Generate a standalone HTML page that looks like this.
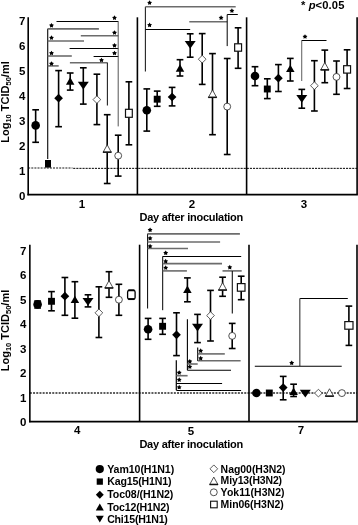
<!DOCTYPE html><html><head><meta charset="utf-8"><style>html,body{margin:0;padding:0;background:#fff;}svg{display:block;will-change:transform;}</style></head><body>
<svg width="358" height="525" viewBox="0 0 358 525" font-family='"Liberation Sans", sans-serif' font-weight="bold">
<rect width="358" height="525" fill="#fff"/>
<line x1="28.2" y1="168" x2="72.5" y2="168" stroke="#666" stroke-width="1.5" stroke-dasharray="2.0 1.1"/><line x1="73.2" y1="168.35" x2="357.1" y2="168.35" stroke="#000" stroke-width="1.0" stroke-dasharray="2.1 1.0"/><line x1="28.2" y1="17.3" x2="28.2" y2="195.35000000000002" stroke="#000" stroke-width="1.6"/><line x1="137.4" y1="17.3" x2="137.4" y2="194.55" stroke="#000" stroke-width="1.6"/><line x1="246.6" y1="17.3" x2="246.6" y2="194.55" stroke="#000" stroke-width="1.6"/><line x1="357.1" y1="17.3" x2="357.1" y2="194.55" stroke="#000" stroke-width="1.6"/><line x1="27.4" y1="194.55" x2="357.90000000000003" y2="194.55" stroke="#000" stroke-width="1.65"/><text x="25.3" y="25.40" font-size="11.5" text-anchor="end">7</text><text x="25.3" y="50.35" font-size="11.5" text-anchor="end">6</text><text x="25.3" y="75.30" font-size="11.5" text-anchor="end">5</text><text x="25.3" y="100.25" font-size="11.5" text-anchor="end">4</text><text x="25.3" y="125.20" font-size="11.5" text-anchor="end">3</text><text x="25.3" y="150.15" font-size="11.5" text-anchor="end">2</text><text x="25.3" y="175.10" font-size="11.5" text-anchor="end">1</text><text x="25.3" y="200.05" font-size="11.5" text-anchor="end">0</text>
<line x1="29.85" y1="393.0" x2="357.0" y2="393.0" stroke="#2a2a2a" stroke-width="1.3" stroke-dasharray="2.0 1.2"/><line x1="29.85" y1="244.7" x2="29.85" y2="422.35" stroke="#000" stroke-width="1.6"/><line x1="139.6" y1="244.7" x2="139.6" y2="421.55" stroke="#000" stroke-width="1.6"/><line x1="249.0" y1="244.7" x2="249.0" y2="421.55" stroke="#000" stroke-width="1.6"/><line x1="357.0" y1="244.7" x2="357.0" y2="421.55" stroke="#000" stroke-width="1.6"/><line x1="29.05" y1="421.55" x2="357.8" y2="421.55" stroke="#000" stroke-width="1.65"/><text x="26.4" y="254.50" font-size="11.5" text-anchor="end">7</text><text x="26.4" y="279.00" font-size="11.5" text-anchor="end">6</text><text x="26.4" y="303.50" font-size="11.5" text-anchor="end">5</text><text x="26.4" y="328.00" font-size="11.5" text-anchor="end">4</text><text x="26.4" y="352.50" font-size="11.5" text-anchor="end">3</text><text x="26.4" y="377.00" font-size="11.5" text-anchor="end">2</text><text x="26.4" y="401.50" font-size="11.5" text-anchor="end">1</text><text x="26.4" y="426.00" font-size="11.5" text-anchor="end">0</text>
<line x1="47.7" y1="28.8" x2="47.7" y2="159" stroke="#111" stroke-width="1.15"/>
<line x1="47.7" y1="28.9" x2="98.9" y2="28.9" stroke="#6c6c6c" stroke-width="1.6"/>
<line x1="47.7" y1="41" x2="84" y2="41" stroke="#6c6c6c" stroke-width="1.6"/>
<line x1="47.7" y1="56" x2="71.8" y2="56" stroke="#6c6c6c" stroke-width="1.6"/>
<line x1="47.7" y1="65.9" x2="58.7" y2="65.9" stroke="#6c6c6c" stroke-width="1.6"/>
<line x1="56.5" y1="21.5" x2="118.4" y2="21.5" stroke="#000" stroke-width="1.0"/>
<line x1="80.8" y1="35.7" x2="118.4" y2="35.7" stroke="#6c6c6c" stroke-width="1.6"/>
<line x1="69.6" y1="48.5" x2="118.4" y2="48.5" stroke="#000" stroke-width="1.0"/>
<line x1="93.6" y1="56.5" x2="118.4" y2="56.5" stroke="#000" stroke-width="1.0"/>
<line x1="118.2" y1="21.5" x2="118.2" y2="126.4" stroke="#555" stroke-width="1.0"/>
<line x1="69.9" y1="62.8" x2="107.6" y2="62.8" stroke="#6c6c6c" stroke-width="1.6"/>
<line x1="107.4" y1="62.8" x2="107.4" y2="105.5" stroke="#222" stroke-width="1.1"/>
<line x1="145.4" y1="6.7" x2="145.4" y2="71.5" stroke="#222" stroke-width="1.1"/>
<line x1="145.4" y1="6.8" x2="235.7" y2="6.8" stroke="#6c6c6c" stroke-width="1.6"/>
<line x1="145.4" y1="29.5" x2="190.2" y2="29.5" stroke="#000" stroke-width="1.0"/>
<line x1="189.3" y1="21.8" x2="227.2" y2="21.8" stroke="#6c6c6c" stroke-width="1.6"/>
<line x1="227.2" y1="14.6" x2="227.2" y2="46.1" stroke="#000" stroke-width="1.0"/>
<line x1="227.2" y1="14.5" x2="237.8" y2="14.5" stroke="#000" stroke-width="1.0"/>
<line x1="301.7" y1="40.4" x2="301.7" y2="81" stroke="#6c6c6c" stroke-width="1.1"/>
<line x1="301.7" y1="40.5" x2="326.5" y2="40.5" stroke="#000" stroke-width="1.0"/>
<line x1="147.6" y1="233.7" x2="147.6" y2="308.5" stroke="#000" stroke-width="1.0"/>
<line x1="147.6" y1="233.9" x2="239.9" y2="233.9" stroke="#6c6c6c" stroke-width="1.6"/>
<line x1="147.6" y1="242" x2="220.1" y2="242" stroke="#6c6c6c" stroke-width="1.6"/>
<line x1="147.6" y1="248.5" x2="188" y2="248.5" stroke="#6c6c6c" stroke-width="1.6"/>
<line x1="162.7" y1="256.4" x2="162.7" y2="310.2" stroke="#000" stroke-width="1.0"/>
<line x1="162.7" y1="256.5" x2="241.2" y2="256.5" stroke="#000" stroke-width="1.0"/>
<line x1="162.7" y1="263.6" x2="222" y2="263.6" stroke="#6c6c6c" stroke-width="1.6"/>
<line x1="162.7" y1="270.9" x2="186.9" y2="270.9" stroke="#6c6c6c" stroke-width="1.6"/>
<line x1="222.5" y1="270.9" x2="241.7" y2="270.9" stroke="#6c6c6c" stroke-width="1.6"/>
<line x1="232.3" y1="270.9" x2="232.3" y2="313.6" stroke="#111" stroke-width="1.1"/>
<line x1="187.4" y1="319.2" x2="187.4" y2="370.2" stroke="#000" stroke-width="1.1"/>
<line x1="187.4" y1="364" x2="197.7" y2="364" stroke="#6c6c6c" stroke-width="1.6"/>
<line x1="187.4" y1="370.2" x2="231" y2="370.2" stroke="#000" stroke-width="1.1"/>
<line x1="197.7" y1="347.5" x2="197.7" y2="361" stroke="#000" stroke-width="1.1"/>
<line x1="197.7" y1="353.9" x2="224.8" y2="353.9" stroke="#6c6c6c" stroke-width="1.6"/>
<line x1="197.7" y1="360.8" x2="240.6" y2="360.8" stroke="#6c6c6c" stroke-width="1.6"/>
<line x1="176.3" y1="360.3" x2="176.3" y2="390.3" stroke="#000" stroke-width="1.2"/>
<line x1="176.4" y1="375.7" x2="187.6" y2="375.7" stroke="#6c6c6c" stroke-width="1.6"/>
<line x1="176.4" y1="383.5" x2="222.1" y2="383.5" stroke="#000" stroke-width="1.0"/>
<line x1="176.4" y1="390.5" x2="241.1" y2="390.5" stroke="#000" stroke-width="1.0"/>
<line x1="299.8" y1="298.5" x2="347.8" y2="298.5" stroke="#000" stroke-width="1.1"/>
<line x1="299.8" y1="298.5" x2="299.8" y2="366" stroke="#555" stroke-width="1.3"/>
<line x1="254.8" y1="366.2" x2="341.7" y2="366.2" stroke="#000" stroke-width="1.1"/>
<polygon points="51.50,22.95 52.32,24.37 53.93,24.71 52.83,25.93 53.00,27.56 51.50,26.90 50.00,27.56 50.17,25.93 49.07,24.71 50.68,24.37" fill="#000"/>
<polygon points="51.50,35.25 52.32,36.67 53.93,37.01 52.83,38.23 53.00,39.86 51.50,39.20 50.00,39.86 50.17,38.23 49.07,37.01 50.68,36.67" fill="#000"/>
<polygon points="51.50,50.65 52.32,52.07 53.93,52.41 52.83,53.63 53.00,55.26 51.50,54.60 50.00,55.26 50.17,53.63 49.07,52.41 50.68,52.07" fill="#000"/>
<polygon points="51.50,61.15 52.32,62.57 53.93,62.91 52.83,64.13 53.00,65.76 51.50,65.10 50.00,65.76 50.17,64.13 49.07,62.91 50.68,62.57" fill="#000"/>
<polygon points="114.50,15.35 115.32,16.77 116.93,17.11 115.83,18.33 116.00,19.96 114.50,19.30 113.00,19.96 113.17,18.33 112.07,17.11 113.68,16.77" fill="#000"/>
<polygon points="114.50,30.15 115.32,31.57 116.93,31.91 115.83,33.13 116.00,34.76 114.50,34.10 113.00,34.76 113.17,33.13 112.07,31.91 113.68,31.57" fill="#000"/>
<polygon points="114.50,42.95 115.32,44.37 116.93,44.71 115.83,45.93 116.00,47.56 114.50,46.90 113.00,47.56 113.17,45.93 112.07,44.71 113.68,44.37" fill="#000"/>
<polygon points="114.50,50.65 115.32,52.07 116.93,52.41 115.83,53.63 116.00,55.26 114.50,54.60 113.00,55.26 113.17,53.63 112.07,52.41 113.68,52.07" fill="#000"/>
<polygon points="101.50,57.65 102.32,59.07 103.93,59.41 102.83,60.63 103.00,62.26 101.50,61.60 100.00,62.26 100.17,60.63 99.07,59.41 100.68,59.07" fill="#000"/>
<polygon points="149.60,0.25 150.42,1.67 152.03,2.01 150.93,3.23 151.10,4.86 149.60,4.20 148.10,4.86 148.27,3.23 147.17,2.01 148.78,1.67" fill="#000"/>
<polygon points="149.60,22.55 150.42,23.97 152.03,24.31 150.93,25.53 151.10,27.16 149.60,26.50 148.10,27.16 148.27,25.53 147.17,24.31 148.78,23.97" fill="#000"/>
<polygon points="221.10,15.35 221.92,16.77 223.53,17.11 222.43,18.33 222.60,19.96 221.10,19.30 219.60,19.96 219.77,18.33 218.67,17.11 220.28,16.77" fill="#000"/>
<polygon points="231.90,8.25 232.72,9.67 234.33,10.01 233.23,11.23 233.40,12.86 231.90,12.20 230.40,12.86 230.57,11.23 229.47,10.01 231.08,9.67" fill="#000"/>
<polygon points="305.00,34.15 305.82,35.57 307.43,35.91 306.33,37.13 306.50,38.76 305.00,38.10 303.50,38.76 303.67,37.13 302.57,35.91 304.18,35.57" fill="#000"/>
<polygon points="150.10,227.45 150.92,228.87 152.53,229.21 151.43,230.43 151.60,232.06 150.10,231.40 148.60,232.06 148.77,230.43 147.67,229.21 149.28,228.87" fill="#000"/>
<polygon points="150.10,235.85 150.92,237.27 152.53,237.61 151.43,238.83 151.60,240.46 150.10,239.80 148.60,240.46 148.77,238.83 147.67,237.61 149.28,237.27" fill="#000"/>
<polygon points="150.10,243.75 150.92,245.17 152.53,245.51 151.43,246.73 151.60,248.36 150.10,247.70 148.60,248.36 148.77,246.73 147.67,245.51 149.28,245.17" fill="#000"/>
<polygon points="165.70,250.45 166.52,251.87 168.13,252.21 167.03,253.43 167.20,255.06 165.70,254.40 164.20,255.06 164.37,253.43 163.27,252.21 164.88,251.87" fill="#000"/>
<polygon points="165.70,258.85 166.52,260.27 168.13,260.61 167.03,261.83 167.20,263.46 165.70,262.80 164.20,263.46 164.37,261.83 163.27,260.61 164.88,260.27" fill="#000"/>
<polygon points="165.70,265.25 166.52,266.67 168.13,267.01 167.03,268.23 167.20,269.86 165.70,269.20 164.20,269.86 164.37,268.23 163.27,267.01 164.88,266.67" fill="#000"/>
<polygon points="229.80,264.85 230.62,266.27 232.23,266.61 231.13,267.83 231.30,269.46 229.80,268.80 228.30,269.46 228.47,267.83 227.37,266.61 228.98,266.27" fill="#000"/>
<polygon points="189.80,358.95 190.62,360.37 192.23,360.71 191.13,361.93 191.30,363.56 189.80,362.90 188.30,363.56 188.47,361.93 187.37,360.71 188.98,360.37" fill="#000"/>
<polygon points="189.80,364.25 190.62,365.67 192.23,366.01 191.13,367.23 191.30,368.86 189.80,368.20 188.30,368.86 188.47,367.23 187.37,366.01 188.98,365.67" fill="#000"/>
<polygon points="200.70,348.35 201.52,349.77 203.13,350.11 202.03,351.33 202.20,352.96 200.70,352.30 199.20,352.96 199.37,351.33 198.27,350.11 199.88,349.77" fill="#000"/>
<polygon points="200.70,355.85 201.52,357.27 203.13,357.61 202.03,358.83 202.20,360.46 200.70,359.80 199.20,360.46 199.37,358.83 198.27,357.61 199.88,357.27" fill="#000"/>
<polygon points="179.20,370.15 180.02,371.57 181.63,371.91 180.53,373.13 180.70,374.76 179.20,374.10 177.70,374.76 177.87,373.13 176.77,371.91 178.38,371.57" fill="#000"/>
<polygon points="179.20,377.35 180.02,378.77 181.63,379.11 180.53,380.33 180.70,381.96 179.20,381.30 177.70,381.96 177.87,380.33 176.77,379.11 178.38,378.77" fill="#000"/>
<polygon points="179.20,384.75 180.02,386.17 181.63,386.51 180.53,387.73 180.70,389.36 179.20,388.70 177.70,389.36 177.87,387.73 176.77,386.51 178.38,386.17" fill="#000"/>
<polygon points="291.70,360.45 292.52,361.87 294.13,362.21 293.03,363.43 293.20,365.06 291.70,364.40 290.20,365.06 290.37,363.43 289.27,362.21 290.88,361.87" fill="#000"/>
<line x1="35.65" y1="109.8" x2="35.65" y2="142.3" stroke="#000" stroke-width="1.6"/><line x1="32.3" y1="109.8" x2="39.0" y2="109.8" stroke="#000" stroke-width="1.6"/><line x1="32.3" y1="142.3" x2="39.0" y2="142.3" stroke="#000" stroke-width="1.6"/>
<line x1="58.6" y1="70.6" x2="58.6" y2="126.7" stroke="#000" stroke-width="1.6"/><line x1="55.25" y1="70.6" x2="61.95" y2="70.6" stroke="#000" stroke-width="1.6"/><line x1="55.25" y1="126.7" x2="61.95" y2="126.7" stroke="#000" stroke-width="1.6"/>
<line x1="70.2" y1="73" x2="70.2" y2="90.1" stroke="#000" stroke-width="1.6"/><line x1="66.85000000000001" y1="73" x2="73.55" y2="73" stroke="#000" stroke-width="1.6"/><line x1="66.85000000000001" y1="90.1" x2="73.55" y2="90.1" stroke="#000" stroke-width="1.6"/>
<line x1="83.3" y1="67.8" x2="83.3" y2="104.1" stroke="#000" stroke-width="1.6"/><line x1="79.95" y1="67.8" x2="86.64999999999999" y2="67.8" stroke="#000" stroke-width="1.6"/><line x1="79.95" y1="104.1" x2="86.64999999999999" y2="104.1" stroke="#000" stroke-width="1.6"/>
<line x1="96.9" y1="74.2" x2="96.9" y2="124.6" stroke="#000" stroke-width="1.6"/><line x1="93.55000000000001" y1="74.2" x2="100.25" y2="74.2" stroke="#000" stroke-width="1.6"/><line x1="93.55000000000001" y1="124.6" x2="100.25" y2="124.6" stroke="#000" stroke-width="1.6"/>
<line x1="107.2" y1="114.7" x2="107.2" y2="183.5" stroke="#000" stroke-width="1.6"/><line x1="103.85000000000001" y1="114.7" x2="110.55" y2="114.7" stroke="#000" stroke-width="1.6"/><line x1="103.85000000000001" y1="183.5" x2="110.55" y2="183.5" stroke="#000" stroke-width="1.6"/>
<line x1="118.2" y1="135.2" x2="118.2" y2="176.1" stroke="#000" stroke-width="1.6"/><line x1="114.85000000000001" y1="135.2" x2="121.55" y2="135.2" stroke="#000" stroke-width="1.6"/><line x1="114.85000000000001" y1="176.1" x2="121.55" y2="176.1" stroke="#000" stroke-width="1.6"/>
<line x1="128.9" y1="81.8" x2="128.9" y2="144.8" stroke="#000" stroke-width="1.6"/><line x1="125.55000000000001" y1="81.8" x2="132.25" y2="81.8" stroke="#000" stroke-width="1.6"/><line x1="125.55000000000001" y1="144.8" x2="132.25" y2="144.8" stroke="#000" stroke-width="1.6"/>
<circle cx="35.65" cy="125.4" r="4.3" fill="#000"/>
<rect x="45" y="160" width="6" height="7.6" fill="#000"/>
<polygon points="58.6,93.85000000000001 62.95,98.2 58.6,102.55 54.25,98.2" fill="#000"/>
<polygon points="70.2,77.3 74.45,84.7 65.95,84.7" fill="#000"/>
<polygon points="77.8,81.69999999999999 88.8,81.69999999999999 83.3,89.5" fill="#000"/>
<polygon points="96.9,95.75 100.75,99.6 96.9,103.44999999999999 93.05000000000001,99.6" fill="#fff" stroke="#333" stroke-width="0.8"/>
<polygon points="107.2,144.75 111.3,152.25 103.10000000000001,152.25" fill="#fff" stroke="#333" stroke-width="0.85"/><line x1="102.9" y1="152.15" x2="111.5" y2="152.15" stroke="#111" stroke-width="1.5"/>
<circle cx="118.2" cy="155.7" r="3.45" fill="#fff" stroke="#333" stroke-width="0.85"/>
<rect x="125.5" y="109.3" width="6.8" height="8.0" fill="#fff" stroke="#111" stroke-width="1.2"/>
<line x1="146.8" y1="88.9" x2="146.8" y2="131.1" stroke="#000" stroke-width="1.6"/><line x1="143.45000000000002" y1="88.9" x2="150.15" y2="88.9" stroke="#000" stroke-width="1.6"/><line x1="143.45000000000002" y1="131.1" x2="150.15" y2="131.1" stroke="#000" stroke-width="1.6"/>
<line x1="157.2" y1="91.1" x2="157.2" y2="106.3" stroke="#000" stroke-width="1.6"/><line x1="153.85" y1="91.1" x2="160.54999999999998" y2="91.1" stroke="#000" stroke-width="1.6"/><line x1="153.85" y1="106.3" x2="160.54999999999998" y2="106.3" stroke="#000" stroke-width="1.6"/>
<line x1="172.1" y1="87.4" x2="172.1" y2="105.9" stroke="#000" stroke-width="1.6"/><line x1="168.75" y1="87.4" x2="175.45" y2="87.4" stroke="#000" stroke-width="1.6"/><line x1="168.75" y1="105.9" x2="175.45" y2="105.9" stroke="#000" stroke-width="1.6"/>
<line x1="180" y1="59.7" x2="180" y2="76" stroke="#000" stroke-width="1.6"/><line x1="176.65" y1="59.7" x2="183.35" y2="59.7" stroke="#000" stroke-width="1.6"/><line x1="176.65" y1="76" x2="183.35" y2="76" stroke="#000" stroke-width="1.6"/>
<line x1="190.2" y1="33.8" x2="190.2" y2="57.2" stroke="#000" stroke-width="1.6"/><line x1="186.85" y1="33.8" x2="193.54999999999998" y2="33.8" stroke="#000" stroke-width="1.6"/><line x1="186.85" y1="57.2" x2="193.54999999999998" y2="57.2" stroke="#000" stroke-width="1.6"/>
<line x1="202.2" y1="33.6" x2="202.2" y2="84.4" stroke="#000" stroke-width="1.6"/><line x1="198.85" y1="33.6" x2="205.54999999999998" y2="33.6" stroke="#000" stroke-width="1.6"/><line x1="198.85" y1="84.4" x2="205.54999999999998" y2="84.4" stroke="#000" stroke-width="1.6"/>
<line x1="212.5" y1="53.6" x2="212.5" y2="134.7" stroke="#000" stroke-width="1.6"/><line x1="209.15" y1="53.6" x2="215.85" y2="53.6" stroke="#000" stroke-width="1.6"/><line x1="209.15" y1="134.7" x2="215.85" y2="134.7" stroke="#000" stroke-width="1.6"/>
<line x1="227.2" y1="58.5" x2="227.2" y2="154.5" stroke="#000" stroke-width="1.6"/><line x1="223.85" y1="58.5" x2="230.54999999999998" y2="58.5" stroke="#000" stroke-width="1.6"/><line x1="223.85" y1="154.5" x2="230.54999999999998" y2="154.5" stroke="#000" stroke-width="1.6"/>
<line x1="238.1" y1="27.8" x2="238.1" y2="68.3" stroke="#000" stroke-width="1.6"/><line x1="234.75" y1="27.8" x2="241.45" y2="27.8" stroke="#000" stroke-width="1.6"/><line x1="234.75" y1="68.3" x2="241.45" y2="68.3" stroke="#000" stroke-width="1.6"/>
<circle cx="146.8" cy="110.3" r="4.3" fill="#000"/>
<rect x="153.75" y="95.75" width="6.9" height="6.9" fill="#000"/>
<polygon points="172.1,92.65 176.45,97 172.1,101.35 167.75,97" fill="#000"/>
<polygon points="180,64.3 184.25,71.7 175.75,71.7" fill="#000"/>
<polygon points="184.7,40.9 195.7,40.9 190.2,48.699999999999996" fill="#000"/>
<polygon points="202.2,55.35 206.04999999999998,59.2 202.2,63.050000000000004 198.35,59.2" fill="#fff" stroke="#333" stroke-width="0.8"/>
<polygon points="212.5,89.95 216.6,97.45 208.4,97.45" fill="#fff" stroke="#333" stroke-width="0.85"/><line x1="208.20000000000002" y1="97.35000000000001" x2="216.79999999999998" y2="97.35000000000001" stroke="#111" stroke-width="1.5"/>
<circle cx="227.2" cy="106.6" r="3.45" fill="#fff" stroke="#333" stroke-width="0.85"/>
<rect x="234.65" y="43.8" width="6.9" height="7.4" fill="#fff" stroke="#111" stroke-width="1.2"/>
<line x1="255" y1="66.7" x2="255" y2="85.7" stroke="#000" stroke-width="1.6"/><line x1="251.65" y1="66.7" x2="258.35" y2="66.7" stroke="#000" stroke-width="1.6"/><line x1="251.65" y1="85.7" x2="258.35" y2="85.7" stroke="#000" stroke-width="1.6"/>
<line x1="267.3" y1="78.8" x2="267.3" y2="98.6" stroke="#000" stroke-width="1.6"/><line x1="263.95" y1="78.8" x2="270.65000000000003" y2="78.8" stroke="#000" stroke-width="1.6"/><line x1="263.95" y1="98.6" x2="270.65000000000003" y2="98.6" stroke="#000" stroke-width="1.6"/>
<line x1="278.4" y1="64.6" x2="278.4" y2="91.5" stroke="#000" stroke-width="1.6"/><line x1="275.04999999999995" y1="64.6" x2="281.75" y2="64.6" stroke="#000" stroke-width="1.6"/><line x1="275.04999999999995" y1="91.5" x2="281.75" y2="91.5" stroke="#000" stroke-width="1.6"/>
<line x1="290.3" y1="58.4" x2="290.3" y2="81" stroke="#000" stroke-width="1.6"/><line x1="286.95" y1="58.4" x2="293.65000000000003" y2="58.4" stroke="#000" stroke-width="1.6"/><line x1="286.95" y1="81" x2="293.65000000000003" y2="81" stroke="#000" stroke-width="1.6"/>
<line x1="301.8" y1="89.4" x2="301.8" y2="108.2" stroke="#000" stroke-width="1.6"/><line x1="298.45" y1="89.4" x2="305.15000000000003" y2="89.4" stroke="#000" stroke-width="1.6"/><line x1="298.45" y1="108.2" x2="305.15000000000003" y2="108.2" stroke="#000" stroke-width="1.6"/>
<line x1="314.4" y1="60.7" x2="314.4" y2="111" stroke="#000" stroke-width="1.6"/><line x1="311.04999999999995" y1="60.7" x2="317.75" y2="60.7" stroke="#000" stroke-width="1.6"/><line x1="311.04999999999995" y1="111" x2="317.75" y2="111" stroke="#000" stroke-width="1.6"/>
<line x1="324.8" y1="50.1" x2="324.8" y2="82.7" stroke="#000" stroke-width="1.6"/><line x1="321.45" y1="50.1" x2="328.15000000000003" y2="50.1" stroke="#000" stroke-width="1.6"/><line x1="321.45" y1="82.7" x2="328.15000000000003" y2="82.7" stroke="#000" stroke-width="1.6"/>
<line x1="336.5" y1="61" x2="336.5" y2="94.3" stroke="#000" stroke-width="1.6"/><line x1="333.15" y1="61" x2="339.85" y2="61" stroke="#000" stroke-width="1.6"/><line x1="333.15" y1="94.3" x2="339.85" y2="94.3" stroke="#000" stroke-width="1.6"/>
<line x1="347.1" y1="49.8" x2="347.1" y2="88.5" stroke="#000" stroke-width="1.6"/><line x1="343.75" y1="49.8" x2="350.45000000000005" y2="49.8" stroke="#000" stroke-width="1.6"/><line x1="343.75" y1="88.5" x2="350.45000000000005" y2="88.5" stroke="#000" stroke-width="1.6"/>
<circle cx="255" cy="76" r="4.3" fill="#000"/>
<rect x="263.85" y="85.55" width="6.9" height="6.9" fill="#000"/>
<polygon points="278.4,73.85000000000001 282.75,78.2 278.4,82.55 274.04999999999995,78.2" fill="#000"/>
<polygon points="290.3,64.7 294.55,72.10000000000001 286.05,72.10000000000001" fill="#000"/>
<polygon points="296.3,94.89999999999999 307.3,94.89999999999999 301.8,102.7" fill="#000"/>
<polygon points="314.4,81.85000000000001 318.25,85.7 314.4,89.55 310.54999999999995,85.7" fill="#fff" stroke="#333" stroke-width="0.8"/>
<polygon points="324.8,62.45 328.90000000000003,69.95 320.7,69.95" fill="#fff" stroke="#333" stroke-width="0.85"/><line x1="320.5" y1="69.85000000000001" x2="329.1" y2="69.85000000000001" stroke="#111" stroke-width="1.5"/>
<circle cx="336.5" cy="76.9" r="3.45" fill="#fff" stroke="#333" stroke-width="0.85"/>
<rect x="343.65000000000003" y="65.7" width="6.9" height="7.4" fill="#fff" stroke="#111" stroke-width="1.2"/>
<line x1="37.6" y1="301" x2="37.6" y2="308" stroke="#000" stroke-width="1.6"/><line x1="34.25" y1="301" x2="40.95" y2="301" stroke="#000" stroke-width="1.6"/><line x1="34.25" y1="308" x2="40.95" y2="308" stroke="#000" stroke-width="1.6"/>
<line x1="51.5" y1="291.6" x2="51.5" y2="310.8" stroke="#000" stroke-width="1.6"/><line x1="48.15" y1="291.6" x2="54.85" y2="291.6" stroke="#000" stroke-width="1.6"/><line x1="48.15" y1="310.8" x2="54.85" y2="310.8" stroke="#000" stroke-width="1.6"/>
<line x1="64.9" y1="277.5" x2="64.9" y2="315.3" stroke="#000" stroke-width="1.6"/><line x1="61.550000000000004" y1="277.5" x2="68.25" y2="277.5" stroke="#000" stroke-width="1.6"/><line x1="61.550000000000004" y1="315.3" x2="68.25" y2="315.3" stroke="#000" stroke-width="1.6"/>
<line x1="74.9" y1="281.7" x2="74.9" y2="318.2" stroke="#000" stroke-width="1.6"/><line x1="71.55000000000001" y1="281.7" x2="78.25" y2="281.7" stroke="#000" stroke-width="1.6"/><line x1="71.55000000000001" y1="318.2" x2="78.25" y2="318.2" stroke="#000" stroke-width="1.6"/>
<line x1="88" y1="294.8" x2="88" y2="306.9" stroke="#000" stroke-width="1.6"/><line x1="84.65" y1="294.8" x2="91.35" y2="294.8" stroke="#000" stroke-width="1.6"/><line x1="84.65" y1="306.9" x2="91.35" y2="306.9" stroke="#000" stroke-width="1.6"/>
<line x1="98.9" y1="286.8" x2="98.9" y2="337.5" stroke="#000" stroke-width="1.6"/><line x1="95.55000000000001" y1="286.8" x2="102.25" y2="286.8" stroke="#000" stroke-width="1.6"/><line x1="95.55000000000001" y1="337.5" x2="102.25" y2="337.5" stroke="#000" stroke-width="1.6"/>
<line x1="109" y1="271.7" x2="109" y2="297.3" stroke="#000" stroke-width="1.6"/><line x1="105.65" y1="271.7" x2="112.35" y2="271.7" stroke="#000" stroke-width="1.6"/><line x1="105.65" y1="297.3" x2="112.35" y2="297.3" stroke="#000" stroke-width="1.6"/>
<line x1="118.9" y1="284.3" x2="118.9" y2="315.3" stroke="#000" stroke-width="1.6"/><line x1="115.55000000000001" y1="284.3" x2="122.25" y2="284.3" stroke="#000" stroke-width="1.6"/><line x1="115.55000000000001" y1="315.3" x2="122.25" y2="315.3" stroke="#000" stroke-width="1.6"/>
<circle cx="37.6" cy="304.4" r="4.3" fill="#000"/>
<rect x="48.05" y="297.85" width="6.9" height="6.9" fill="#000"/>
<polygon points="64.9,291.84999999999997 69.25,296.2 64.9,300.55 60.550000000000004,296.2" fill="#000"/>
<polygon points="74.9,295.7 79.15,303.09999999999997 70.65,303.09999999999997" fill="#000"/>
<polygon points="82.5,297.90000000000003 93.5,297.90000000000003 88,305.7" fill="#000"/>
<polygon points="98.9,308.95 102.75,312.8 98.9,316.65000000000003 95.05000000000001,312.8" fill="#fff" stroke="#333" stroke-width="0.8"/>
<polygon points="109,280.55 113.1,288.05 104.9,288.05" fill="#fff" stroke="#333" stroke-width="0.85"/><line x1="104.7" y1="287.95" x2="113.3" y2="287.95" stroke="#111" stroke-width="1.5"/>
<circle cx="118.9" cy="299.7" r="3.45" fill="#fff" stroke="#333" stroke-width="0.85"/>
<rect x="127.6" y="290.3" width="7.5" height="8.8" rx="1.6" fill="#fff" stroke="#000" stroke-width="1.3"/>
<line x1="128.2" y1="290.3" x2="134.5" y2="290.3" stroke="#000" stroke-width="1.9"/>
<line x1="128.2" y1="299.1" x2="134.5" y2="299.1" stroke="#000" stroke-width="1.9"/>
<line x1="148.1" y1="318.4" x2="148.1" y2="339.3" stroke="#000" stroke-width="1.6"/><line x1="144.75" y1="318.4" x2="151.45" y2="318.4" stroke="#000" stroke-width="1.6"/><line x1="144.75" y1="339.3" x2="151.45" y2="339.3" stroke="#000" stroke-width="1.6"/>
<line x1="162.6" y1="318.4" x2="162.6" y2="334.3" stroke="#000" stroke-width="1.6"/><line x1="159.25" y1="318.4" x2="165.95" y2="318.4" stroke="#000" stroke-width="1.6"/><line x1="159.25" y1="334.3" x2="165.95" y2="334.3" stroke="#000" stroke-width="1.6"/>
<line x1="176.5" y1="312.8" x2="176.5" y2="355.6" stroke="#000" stroke-width="1.6"/><line x1="173.15" y1="312.8" x2="179.85" y2="312.8" stroke="#000" stroke-width="1.6"/><line x1="173.15" y1="355.6" x2="179.85" y2="355.6" stroke="#000" stroke-width="1.6"/>
<line x1="187.4" y1="277.9" x2="187.4" y2="301.8" stroke="#000" stroke-width="1.6"/><line x1="184.05" y1="277.9" x2="190.75" y2="277.9" stroke="#000" stroke-width="1.6"/><line x1="184.05" y1="301.8" x2="190.75" y2="301.8" stroke="#000" stroke-width="1.6"/>
<line x1="197.5" y1="314.4" x2="197.5" y2="342.6" stroke="#000" stroke-width="1.6"/><line x1="194.15" y1="314.4" x2="200.85" y2="314.4" stroke="#000" stroke-width="1.6"/><line x1="194.15" y1="342.6" x2="200.85" y2="342.6" stroke="#000" stroke-width="1.6"/>
<line x1="210.5" y1="290.4" x2="210.5" y2="341" stroke="#000" stroke-width="1.6"/><line x1="207.15" y1="290.4" x2="213.85" y2="290.4" stroke="#000" stroke-width="1.6"/><line x1="207.15" y1="341" x2="213.85" y2="341" stroke="#000" stroke-width="1.6"/>
<line x1="222.6" y1="277.2" x2="222.6" y2="296.3" stroke="#000" stroke-width="1.6"/><line x1="219.25" y1="277.2" x2="225.95" y2="277.2" stroke="#000" stroke-width="1.6"/><line x1="219.25" y1="296.3" x2="225.95" y2="296.3" stroke="#000" stroke-width="1.6"/>
<line x1="232.2" y1="323.4" x2="232.2" y2="348.5" stroke="#000" stroke-width="1.6"/><line x1="228.85" y1="323.4" x2="235.54999999999998" y2="323.4" stroke="#000" stroke-width="1.6"/><line x1="228.85" y1="348.5" x2="235.54999999999998" y2="348.5" stroke="#000" stroke-width="1.6"/>
<line x1="241.2" y1="276.2" x2="241.2" y2="299.7" stroke="#000" stroke-width="1.6"/><line x1="237.85" y1="276.2" x2="244.54999999999998" y2="276.2" stroke="#000" stroke-width="1.6"/><line x1="237.85" y1="299.7" x2="244.54999999999998" y2="299.7" stroke="#000" stroke-width="1.6"/>
<circle cx="148.1" cy="329.3" r="4.3" fill="#000"/>
<rect x="159.15" y="322.85" width="6.9" height="6.9" fill="#000"/>
<polygon points="176.5,330.45 180.85,334.8 176.5,339.15000000000003 172.15,334.8" fill="#000"/>
<polygon points="187.4,285.6 191.65,293.0 183.15,293.0" fill="#000"/>
<polygon points="192.0,323.8 203.0,323.8 197.5,331.59999999999997" fill="#000"/>
<polygon points="210.5,311.75 214.35,315.6 210.5,319.45000000000005 206.65,315.6" fill="#fff" stroke="#333" stroke-width="0.8"/>
<polygon points="222.6,282.65 226.7,290.15 218.5,290.15" fill="#fff" stroke="#333" stroke-width="0.85"/><line x1="218.3" y1="290.04999999999995" x2="226.89999999999998" y2="290.04999999999995" stroke="#111" stroke-width="1.5"/>
<circle cx="232.2" cy="335.9" r="3.45" fill="#fff" stroke="#333" stroke-width="0.85"/>
<rect x="237.39999999999998" y="283.59999999999997" width="7.6" height="7.6" fill="#fff" stroke="#111" stroke-width="1.2"/>
<line x1="283.2" y1="376.4" x2="283.2" y2="399.8" stroke="#000" stroke-width="1.6"/><line x1="279.84999999999997" y1="376.4" x2="286.55" y2="376.4" stroke="#000" stroke-width="1.6"/><line x1="279.84999999999997" y1="399.8" x2="286.55" y2="399.8" stroke="#000" stroke-width="1.6"/>
<line x1="293.6" y1="384.2" x2="293.6" y2="396.5" stroke="#000" stroke-width="1.6"/><line x1="290.25" y1="384.2" x2="296.95000000000005" y2="384.2" stroke="#000" stroke-width="1.6"/><line x1="290.25" y1="396.5" x2="296.95000000000005" y2="396.5" stroke="#000" stroke-width="1.6"/>
<line x1="348.9" y1="306.1" x2="348.9" y2="345.4" stroke="#000" stroke-width="1.6"/><line x1="345.54999999999995" y1="306.1" x2="352.25" y2="306.1" stroke="#000" stroke-width="1.6"/><line x1="345.54999999999995" y1="345.4" x2="352.25" y2="345.4" stroke="#000" stroke-width="1.6"/>
<circle cx="256.4" cy="393" r="4.3" fill="#000"/>
<rect x="265.85" y="389.55" width="6.9" height="6.9" fill="#000"/>
<polygon points="283.2,383.25 287.55,387.6 283.2,391.95000000000005 278.84999999999997,387.6" fill="#000"/>
<polygon points="293.6,387.6 297.85,395.0 289.35,395.0" fill="#000"/>
<polygon points="299.8,389.8 310.8,389.8 305.3,397.59999999999997" fill="#000"/>
<polygon points="318.4,389.25 322.25,393.1 318.4,396.95000000000005 314.54999999999995,393.1" fill="#fff" stroke="#333" stroke-width="0.8"/>
<polygon points="329.5,388.75 333.6,396.25 325.4,396.25" fill="#fff" stroke="#333" stroke-width="0.85"/><line x1="325.2" y1="396.15" x2="333.8" y2="396.15" stroke="#111" stroke-width="1.5"/>
<circle cx="341.9" cy="393.1" r="3.45" fill="#fff" stroke="#333" stroke-width="0.85"/>
<rect x="344.79999999999995" y="321.59999999999997" width="8.2" height="7.6" fill="#fff" stroke="#111" stroke-width="1.2"/>
<text x="82" y="207.7" font-size="11.5" text-anchor="middle">1</text>
<text x="192" y="207.7" font-size="11.5" text-anchor="middle">2</text>
<text x="304" y="207.9" font-size="11.5" text-anchor="middle">3</text>
<text x="77.2" y="434.2" font-size="11.5" text-anchor="middle">4</text>
<text x="190.9" y="434.6" font-size="11.5" text-anchor="middle">5</text>
<text x="301" y="434.2" font-size="11.5" text-anchor="middle">7</text>
<text x="191.3" y="221.1" font-size="11" letter-spacing="-0.25" text-anchor="middle">Day after inoculation</text>
<text x="191.2" y="448" font-size="11" letter-spacing="-0.25" text-anchor="middle">Day after inoculation</text>
<text transform="translate(8.7,102) rotate(-90)" font-size="11" text-anchor="middle">Log<tspan font-size="7.5" dy="2.5">10</tspan><tspan dy="-2.5"> TCID</tspan><tspan font-size="7.5" dy="2.5">50</tspan><tspan dy="-2.5">/ml</tspan></text>
<text transform="translate(8.7,330.5) rotate(-90)" font-size="11" text-anchor="middle">Log<tspan font-size="7.5" dy="2.5">10</tspan><tspan dy="-2.5"> TCID</tspan><tspan font-size="7.5" dy="2.5">50</tspan><tspan dy="-2.5">/ml</tspan></text>
<text x="301.0" y="8.5" font-size="11.2" textLength="43.4">* <tspan font-style="italic">p</tspan>&lt;0.05</text>
<circle cx="99.8" cy="469.1" r="4.1" fill="#000"/>
<text x="107.2" y="473.2" font-size="10.6" textLength="67.0">Yam10(H1N1)</text>
<rect x="96.7" y="478.45000000000005" width="6.2" height="6.3" fill="#000"/>
<text x="107.2" y="485.0" font-size="10.6" textLength="64.4">Kag15(H1N1)</text>
<polygon points="99.8,490.75 103.75,494.7 99.8,498.65 95.85,494.7" fill="#000"/>
<text x="107.2" y="497.6" font-size="10.6" textLength="66.1">Toc08/(H1N2)</text>
<polygon points="99.8,503.5 103.8,510.4 95.8,510.4" fill="#000"/>
<text x="107.2" y="510.9" font-size="10.6" textLength="62.4">Toc12(H1N2)</text>
<polygon points="95.8,515.8000000000001 103.8,515.8000000000001 99.8,522.5" fill="#000"/>
<text x="107.2" y="523.0" font-size="10.6" textLength="60.7">Chi15(H1N1)</text>
<polygon points="213.8,464.95 217.65,468.8 213.8,472.65000000000003 209.95000000000002,468.8" fill="#fff" stroke="#333" stroke-width="0.8"/>
<text x="220.6" y="472.7" font-size="10.45" textLength="64.9">Nag00(H3N2)</text>
<polygon points="213.8,477.05 217.9,484.55 209.70000000000002,484.55" fill="#fff" stroke="#333" stroke-width="0.85"/><line x1="209.50000000000003" y1="484.45" x2="218.1" y2="484.45" stroke="#111" stroke-width="1.5"/>
<text x="220.6" y="484.4" font-size="10.45" textLength="61.5">Miy13(H3N2)</text>
<circle cx="213.8" cy="492.3" r="3.45" fill="#fff" stroke="#333" stroke-width="0.85"/>
<text x="220.6" y="496.2" font-size="10.45" textLength="64.0">Yok11(H3N2)</text>
<rect x="210.6" y="501.2" width="6.6" height="6.6" fill="#fff" stroke="#111" stroke-width="1.1"/>
<text x="220.6" y="507.9" font-size="10.45" textLength="63.1">Min06(H3N2)</text>
</svg></body></html>
